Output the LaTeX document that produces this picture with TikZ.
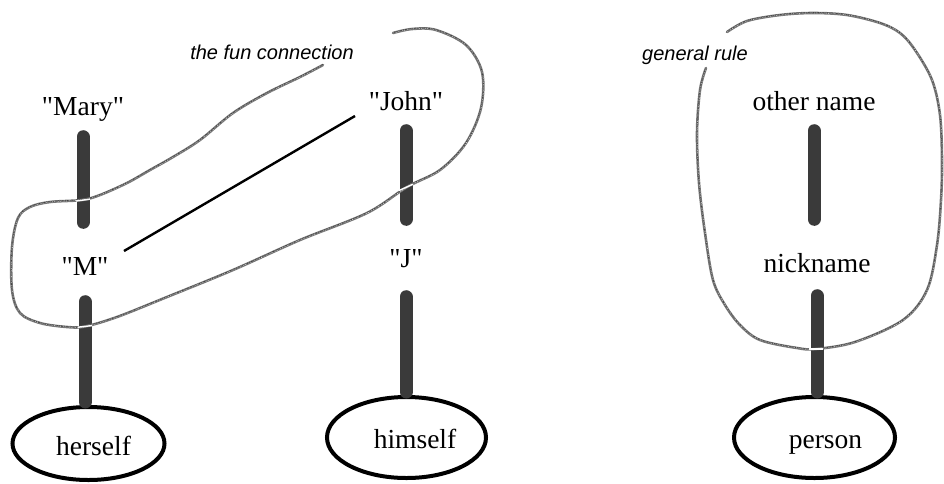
\documentclass[tikz,border=0pt]{standalone}
\usepackage{fontspec}
\newfontfamily\namefont{Liberation Serif}
\newfontfamily\notefont{Liberation Sans}
\usetikzlibrary{shapes.geometric}
\definecolor{barcol}{HTML}{3A3A3A}
\definecolor{pencil}{HTML}{777777}
\definecolor{pencildark}{HTML}{444444}

\begin{document}
\begin{tikzpicture}[x=1pt,y=-1pt,
  word/.style={font=\namefont\fontsize{27.5}{30}\selectfont, inner sep=0pt,
    text height=19pt, text depth=6pt, anchor=base},
  note/.style={font=\notefont\itshape\fontsize{20}{24}\selectfont,
    inner sep=0pt, anchor=base},
  bar/.style={draw=barcol, line width=13pt, line cap=round},
  oval/.style={ellipse, draw=black, line width=4pt, inner sep=0pt},
  link/.style={draw=black, line width=2.4pt},
  rough/.style={draw=pencil, line width=2.6pt, line cap=round},
  grainA/.style={draw=pencildark, line width=0.9pt, dash pattern=on 1.6pt off 1.1pt on 0.6pt off 1.4pt},
  grainB/.style={draw=white!85!pencil, line width=0.5pt, dash pattern=on 0.7pt off 2.9pt on 0.5pt off 1.7pt},
  gap/.style={draw=white, line width=1.4pt}]

\useasboundingbox (0,0) rectangle (944,483);

% labels of the two groupings
\node[note] (funlabel) at (272,59) {the fun connection};
\node[note] (rulelabel) at (695,60) {general rule};

% left column
\node[word] (mary) at (83,115) {"Mary"};
\node[word] (m) at (85,275) {"M"};
\node[oval, minimum width=152pt, minimum height=73pt] (herself) at (88.5,443.5) {};
\node[word] (herselftext) at (93.5,455) {herself};

% middle column
\node[word] (john) at (406,110) {"John"};
\node[word] (j) at (406,267) {"J"};
\node[oval, minimum width=159pt, minimum height=81pt] (himself) at (406.5,437.5) {};
\node[word] (himselftext) at (415,448) {himself};

% right column
\node[word] (other) at (814,110) {other name};
\node[word] (nick) at (817,272) {nickname};
\node[oval, minimum width=161pt, minimum height=81pt] (person) at (814.5,437.5) {};
\node[word] (persontext) at (825.5,448) {person};

% thick links between the names
\draw[bar, shorten <=15.5pt, shorten >=33.5pt] (mary.south) -- (mary.south |- m.north);
\draw[bar, shorten <=20.5pt, shorten >=3pt] (m.south) -- (m.south |- herself.north);
\draw[bar, shorten <=14.5pt, shorten >=28.5pt] (john.south) -- (john.south |- j.north);
\draw[bar, shorten <=23.5pt, shorten >=3pt] (j.south) -- (j.south |- himself.north);
\draw[bar, shorten <=14.5pt, shorten >=33.5pt] (other.south) -- (other.south |- nick.north);
\draw[bar, shorten <=17.5pt, shorten >=3pt] (nick.south) -- (nick.south |- person.north);

% the thin line from "M" towards "John"
\coordinate (funA) at (355,116);
\coordinate (funB) at (124,251);
\draw[link] (funA) -- (funB);

% hand-drawn loop round "Mary"/"M" and "John"
\def\funloop{(323,65) (300,77) (267,93) (233,113) (200,140) (173,157)
  (150,170) (127,183) (100,195) (82,200) (50,202) (30,207) (18,218)
  (12,247) (12,290) (20,313) (40,323) (67,327) (85,326.5) (117,317)
  (167,297) (233,270) (300,240) (367,213) (407,187) (440,170) (466,143)
  (481,108) (482,72) (466,45) (436,30) (412,29) (393,33)}
\draw[rough] plot[smooth, tension=0.55] coordinates {\funloop};
\draw[grainA, yshift=0.4pt] plot[smooth, tension=0.55] coordinates {\funloop};
\draw[grainB, xshift=0.3pt] plot[smooth, tension=0.55] coordinates {\funloop};

% hand-drawn loop round "other name" and "nickname"
\def\ruleloop{(727,32) (747,21) (780,15) (813,13) (847,15) (880,23)
  (900,33) (915,50) (932,80) (940,115) (942,160) (941,200) (937,245)
  (927,290) (903,320) (855,342) (816,349) (797,348) (760,340) (740,325)
  (725,305) (713,280) (705,233) (699,183) (697,133) (700,90) (706,68)}
\draw[rough] plot[smooth, tension=0.55] coordinates {\ruleloop};
\draw[grainA, yshift=0.4pt] plot[smooth, tension=0.55] coordinates {\ruleloop};
\draw[grainB, xshift=0.3pt] plot[smooth, tension=0.55] coordinates {\ruleloop};

% light seams where the pencil line crosses the bars
\draw[gap] (76,201) -- (90,199.2);
\draw[gap] (78,327.2) -- (92,325.6);
\draw[gap] (399,190.5) -- (413,184.2);
\draw[gap] (809,349) -- (823,349);
\end{tikzpicture}
\end{document}
